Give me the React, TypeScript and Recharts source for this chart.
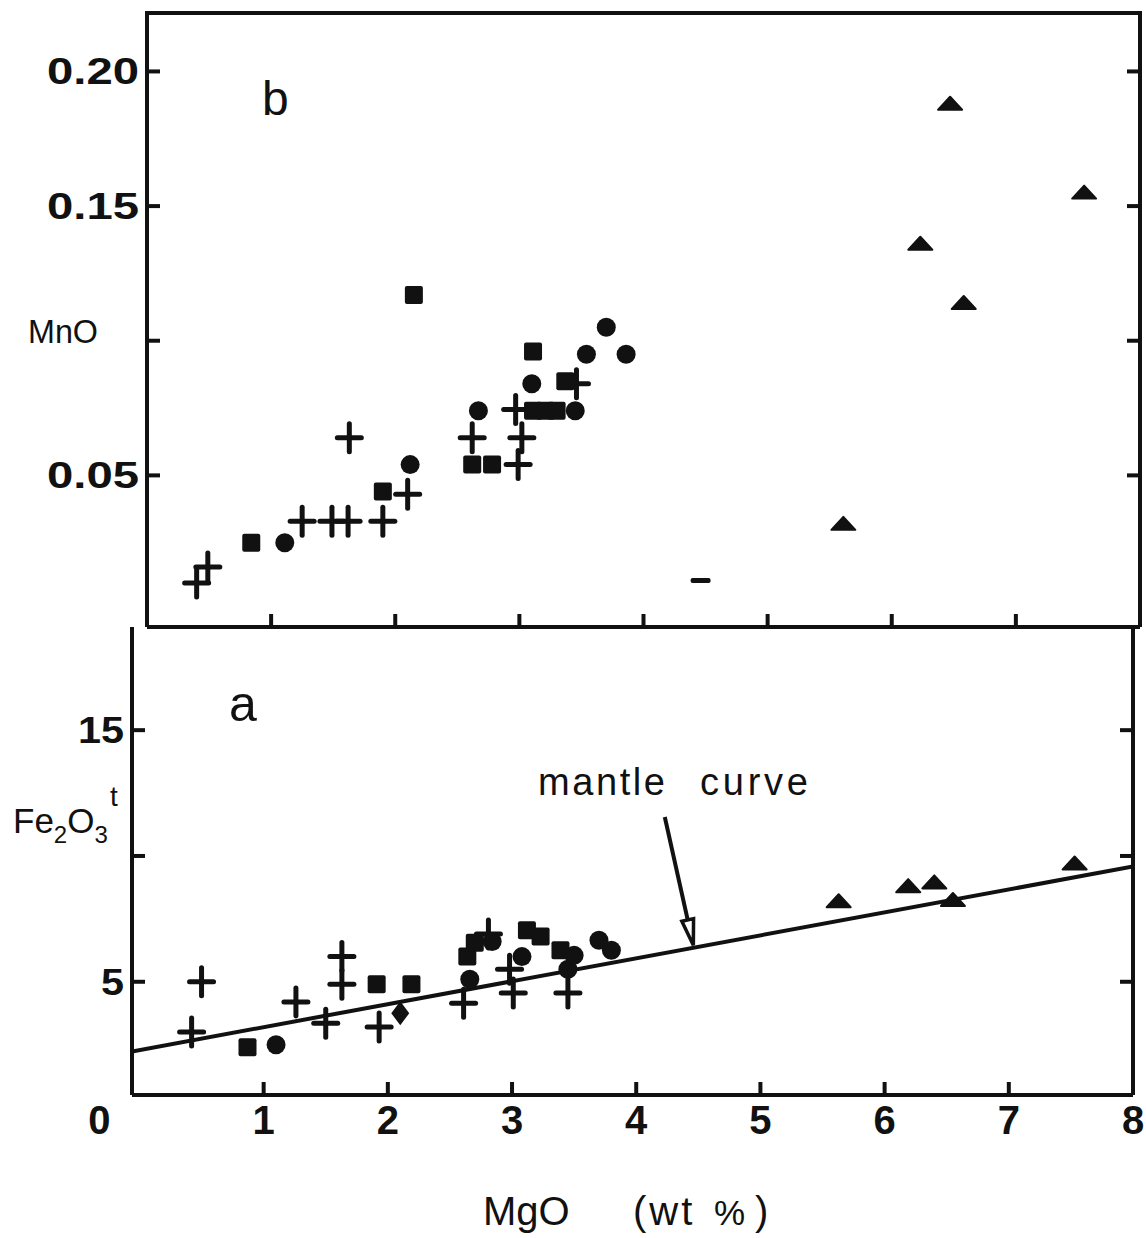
import React from "react";
import { ScatterChart, Scatter, XAxis, YAxis, ReferenceLine } from "recharts";

// panel b: MnO vs MgO (wt %)
const mnoPlus = [
  { mgo: 0.4, mno: 0.01 }, { mgo: 0.49, mno: 0.016 }, { mgo: 1.25, mno: 0.033 },
  { mgo: 1.49, mno: 0.033 }, { mgo: 1.62, mno: 0.033 }, { mgo: 1.9, mno: 0.033 },
  { mgo: 1.63, mno: 0.064 }, { mgo: 2.1, mno: 0.043 }, { mgo: 2.62, mno: 0.064 },
  { mgo: 2.99, mno: 0.054 }, { mgo: 3.02, mno: 0.064 }, { mgo: 2.97, mno: 0.0745 },
  { mgo: 3.46, mno: 0.084 },
];
const mnoSquare = [
  { mgo: 0.84, mno: 0.025 }, { mgo: 1.9, mno: 0.044 }, { mgo: 2.15, mno: 0.117 },
  { mgo: 2.62, mno: 0.054 }, { mgo: 2.78, mno: 0.054 }, { mgo: 3.11, mno: 0.096 },
  { mgo: 3.11, mno: 0.074 }, { mgo: 3.21, mno: 0.074 }, { mgo: 3.3, mno: 0.074 },
  { mgo: 3.37, mno: 0.085 },
];
const mnoCircle = [
  { mgo: 1.11, mno: 0.025 }, { mgo: 2.12, mno: 0.054 }, { mgo: 2.67, mno: 0.074 },
  { mgo: 3.1, mno: 0.084 }, { mgo: 3.45, mno: 0.074 }, { mgo: 3.54, mno: 0.095 },
  { mgo: 3.7, mno: 0.105 }, { mgo: 3.86, mno: 0.095 },
];
const mnoTriangle = [
  { mgo: 5.61, mno: 0.032 }, { mgo: 6.23, mno: 0.136 }, { mgo: 6.47, mno: 0.188 },
  { mgo: 6.58, mno: 0.114 }, { mgo: 7.55, mno: 0.155 },
];
const mnoDash = [{ mgo: 4.46, mno: 0.011 }];

// panel a: Fe2O3t vs MgO
const fePlus = [
  { mgo: 0.5, fe: 5.0 }, { mgo: 0.42, fe: 3.0 }, { mgo: 1.26, fe: 4.2 },
  { mgo: 1.5, fe: 3.35 }, { mgo: 1.63, fe: 6.0 }, { mgo: 1.63, fe: 4.9 },
  { mgo: 1.93, fe: 3.2 }, { mgo: 2.61, fe: 4.15 }, { mgo: 2.81, fe: 6.9 },
  { mgo: 2.98, fe: 5.5 }, { mgo: 3.01, fe: 4.55 }, { mgo: 3.45, fe: 4.55 },
];
const feSquare = [
  { mgo: 0.87, fe: 2.4 }, { mgo: 1.91, fe: 4.9 }, { mgo: 2.19, fe: 4.9 },
  { mgo: 2.64, fe: 6.0 }, { mgo: 2.7, fe: 6.55 }, { mgo: 3.12, fe: 7.05 },
  { mgo: 3.23, fe: 6.8 }, { mgo: 3.39, fe: 6.25 },
];
const feCircle = [
  { mgo: 1.1, fe: 2.5 }, { mgo: 2.66, fe: 5.1 }, { mgo: 2.84, fe: 6.6 },
  { mgo: 3.08, fe: 6.0 }, { mgo: 3.45, fe: 5.5 }, { mgo: 3.5, fe: 6.05 },
  { mgo: 3.7, fe: 6.65 }, { mgo: 3.8, fe: 6.25 },
];
const feTriangle = [
  { mgo: 5.63, fe: 8.2 }, { mgo: 6.19, fe: 8.8 }, { mgo: 6.4, fe: 8.95 },
  { mgo: 6.55, fe: 8.25 }, { mgo: 7.53, fe: 9.7 },
];
const feDiamond = [{ mgo: 2.1, fe: 3.75 }];
const mantleCurve = [{ mgo: -0.06, fe: 2.23 }, { mgo: 8, fe: 9.58 }];
const arrowFrom = { mgo: 4.23, fe: 11.55 };
const arrowTo = { mgo: 4.46, fe: 6.45 };

const mgoTicks = [0, 1, 2, 3, 4, 5, 6, 7, 8];
const mgoInnerTicks = [1, 2, 3, 4, 5, 6, 7];
const mnoTicks = [0.05, 0.1, 0.15, 0.2];
const mnoTickLabels = ["0.05", "", "0.15", "0.20"];
const feTicks = [5, 10, 15];
const feTickLabels = ["5", "", "15"];

const INK = "#111";
const SANS = "'Liberation Sans', Arial, sans-serif";

const Plus = (p: any) => (
  <g stroke={INK} strokeWidth={5} strokeLinecap="round">
    <line x1={p.cx - 12} y1={p.cy} x2={p.cx + 12} y2={p.cy} />
    <line x1={p.cx} y1={p.cy - 14} x2={p.cx} y2={p.cy + 14} />
  </g>
);
const Square = (p: any) => <rect x={p.cx - 9} y={p.cy - 9} width={18} height={18} rx={2} fill={INK} />;
const Dot = (p: any) => <circle cx={p.cx} cy={p.cy} r={9.5} fill={INK} />;
const Triangle = (p: any) => (
  <polygon
    points={`${p.cx - 12},${p.cy + 6} ${p.cx + 12},${p.cy + 6} ${p.cx},${p.cy - 7}`}
    fill={INK} stroke={INK} strokeWidth={2} strokeLinejoin="round"
  />
);
const Diamond = (p: any) => (
  <polygon points={`${p.cx},${p.cy - 12} ${p.cx + 9},${p.cy} ${p.cx},${p.cy + 12} ${p.cx - 9},${p.cy}`} fill={INK} />
);
const Dash = (p: any) => <rect x={p.cx - 10} y={p.cy - 2.5} width={20} height={5} rx={2} fill={INK} />;
const Nothing = () => <g />;

function LeftTick(props: any) {
  const { x, y, index, labels } = props;
  const label = labels[index];
  return (
    <g>
      <line x1={x} y1={y} x2={x + 13} y2={y} stroke={INK} strokeWidth={4} />
      {label ? (
        <text x={x - 8} y={y + 13} textAnchor="end" fontFamily={SANS} fontWeight={700} fontSize={37}
          textLength={label.length * 23} lengthAdjust="spacingAndGlyphs" fill={INK}>
          {label}
        </text>
      ) : null}
    </g>
  );
}

function RightTick(props: any) {
  const { x, y } = props;
  return <line x1={x} y1={y} x2={x - 13} y2={y} stroke={INK} strokeWidth={4} />;
}

function InnerXTick(props: any) {
  const { x, y } = props;
  return <line x1={x} y1={y} x2={x} y2={y - 13} stroke={INK} strokeWidth={4} />;
}

function LabelXTick(props: any) {
  const { x, y, payload } = props;
  const v = payload.value;
  return (
    <g>
      {v > 0 && v < 8 ? <line x1={x} y1={y} x2={x} y2={y - 13} stroke={INK} strokeWidth={4} /> : null}
      <text x={v === 0 ? x - 40 : x} y={y + 39} textAnchor="middle" fontFamily={SANS} fontWeight={700}
        fontSize={40} fill={INK}>
        {String(v)}
      </text>
    </g>
  );
}

function Arrow(props: any) {
  const { x1, y1, x2, y2 } = props;
  const dx = x2 - x1;
  const dy = y2 - y1;
  const len = Math.sqrt(dx * dx + dy * dy);
  const ux = dx / len;
  const uy = dy / len;
  const bx = x2 - ux * 26;
  const by = y2 - uy * 26;
  const px = -uy * 6;
  const py = ux * 6;
  return (
    <g>
      <line x1={x1} y1={y1} x2={bx} y2={by} stroke={INK} strokeWidth={4} />
      <polygon points={`${x2},${y2} ${bx + px},${by + py} ${bx - px},${by - py}`} fill="#fff" stroke={INK}
        strokeWidth={3.5} strokeLinejoin="miter" />
    </g>
  );
}

const axisLine = { stroke: INK, strokeWidth: 4 };

export default function App() {
  return (
    <div style={{ position: "absolute", left: 0, top: 0, width: 1146, height: 1238, background: "#fff" }}>
      <div style={{ position: "absolute", left: 0, top: 0 }}>
        <ScatterChart width={1146} height={640} margin={{ top: 13, right: 5, bottom: 12, left: 146 }}>
          <XAxis type="number" dataKey="mgo" domain={[0, 8]} ticks={mgoInnerTicks} height={1}
            tickSize={0} tickMargin={0} tickLine={false} axisLine={axisLine} tick={<InnerXTick />} />
          <YAxis yAxisId="l" type="number" dataKey="mno" domain={[-0.0063, 0.2217]} ticks={mnoTicks} width={1}
            tickSize={0} tickMargin={0} tickLine={false} axisLine={axisLine}
            tick={<LeftTick labels={mnoTickLabels} />} allowDataOverflow />
          <YAxis yAxisId="r" orientation="right" type="number" dataKey="mno" domain={[-0.0063, 0.2217]}
            ticks={mnoTicks} width={1} tickSize={0} tickMargin={0} tickLine={false} axisLine={axisLine}
            tick={<RightTick />} allowDataOverflow />
          <Scatter yAxisId="l" data={mnoPlus} shape={Plus} isAnimationActive={false} />
          <Scatter yAxisId="l" data={mnoSquare} shape={Square} isAnimationActive={false} />
          <Scatter yAxisId="l" data={mnoCircle} shape={Dot} isAnimationActive={false} />
          <Scatter yAxisId="l" data={mnoTriangle} shape={Triangle} isAnimationActive={false} />
          <Scatter yAxisId="l" data={mnoDash} shape={Dash} isAnimationActive={false} />
          <Scatter yAxisId="r" data={[]} shape={Nothing} isAnimationActive={false} />
        </ScatterChart>
      </div>
      <div style={{ position: "absolute", left: 0, top: 600 }}>
        <ScatterChart width={1146} height={560} margin={{ top: 27, right: 12, bottom: 64, left: 131 }}>
          <XAxis type="number" dataKey="mgo" domain={[-0.06, 8]} ticks={mgoTicks} height={1}
            tickSize={0} tickMargin={0} tickLine={false} axisLine={axisLine} tick={<LabelXTick />}
            allowDataOverflow />
          <YAxis yAxisId="l" type="number" dataKey="fe" domain={[0.5, 19.1]} ticks={feTicks} width={1}
            tickSize={0} tickMargin={0} tickLine={false} axisLine={axisLine}
            tick={<LeftTick labels={feTickLabels} />} allowDataOverflow />
          <YAxis yAxisId="r" orientation="right" type="number" dataKey="fe" domain={[0.5, 19.1]}
            ticks={feTicks} width={1} tickSize={0} tickMargin={0} tickLine={false} axisLine={axisLine}
            tick={<RightTick />} allowDataOverflow />
          <Scatter yAxisId="l" data={mantleCurve} shape={Nothing} line={{ stroke: INK, strokeWidth: 4 }}
            isAnimationActive={false} />
          <ReferenceLine yAxisId="l" segment={[{ x: arrowFrom.mgo, y: arrowFrom.fe }, { x: arrowTo.mgo, y: arrowTo.fe }]}
            shape={Arrow} />
          <Scatter yAxisId="l" data={fePlus} shape={Plus} isAnimationActive={false} />
          <Scatter yAxisId="l" data={feSquare} shape={Square} isAnimationActive={false} />
          <Scatter yAxisId="l" data={feCircle} shape={Dot} isAnimationActive={false} />
          <Scatter yAxisId="l" data={feTriangle} shape={Triangle} isAnimationActive={false} />
          <Scatter yAxisId="l" data={feDiamond} shape={Diamond} isAnimationActive={false} />
          <Scatter yAxisId="r" data={[]} shape={Nothing} isAnimationActive={false} />
        </ScatterChart>
      </div>
      {/* frame top + annotation text */}
      <svg width={1146} height={1238} style={{ position: "absolute", left: 0, top: 0, pointerEvents: "none" }}>
        <line x1={145} y1={13} x2={1142} y2={13} stroke={INK} strokeWidth={4} />
        <g fontFamily={SANS} fill={INK}>
          <text x={262} y={115} fontSize={48}>b</text>
          <text x={229} y={721} fontSize={50}>a</text>
          <text x={28} y={343} fontSize={34} textLength={70} lengthAdjust="spacingAndGlyphs">MnO</text>
          <text x={13} y={833} fontSize={35}>
            Fe<tspan dy={10} fontSize={24}>2</tspan><tspan dy={-10}>O</tspan><tspan dy={10} fontSize={24}>3</tspan>
          </text>
          <text x={110} y={806} fontSize={28}>t</text>
          <text x={538} y={795} fontSize={38} textLength={127} lengthAdjust="spacing">mantle</text>
          <text x={700} y={795} fontSize={38} textLength={108} lengthAdjust="spacing">curve</text>
          <text x={483} y={1225} fontSize={40}>MgO</text>
          <text x={633} y={1225} fontSize={40} letterSpacing={3}>(wt</text>
          <text x={714} y={1225} fontSize={35}>%</text>
          <text x={755} y={1225} fontSize={40}>)</text>
        </g>
      </svg>
    </div>
  );
}
